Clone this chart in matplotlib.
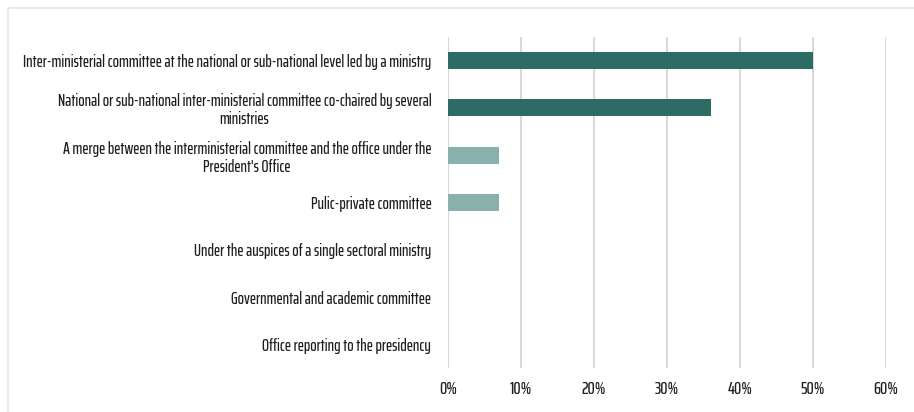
import matplotlib.pyplot as plt
from matplotlib.patches import Rectangle
from matplotlib.ticker import PercentFormatter

plt.rcParams['font.family'] = ['Saira ExtraCondensed', 'DejaVu Sans']
plt.rcParams['font.weight'] = 'medium'

categories = [
    "Inter-ministerial committee at the national or sub-national level led by a ministry",
    "National or sub-national inter-ministerial committee co-chaired by several\nministries",
    "A merge between the interministerial committee and the office under the\nPresident's Office",
    "Pulic-private committee",
    "Under the auspices of a single sectoral ministry",
    "Governmental and academic committee",
    "Office reporting to the presidency",
]
shares = [0.50, 0.36, 0.07, 0.07, 0.0, 0.0, 0.0]
colors = ["#2D6B65", "#2D6B65", "#88B0AC", "#88B0AC", "#88B0AC", "#88B0AC", "#88B0AC"]

fig = plt.figure(figsize=(9.14, 4.12), dpi=100)
# outer frame: only its top and left edges fall inside the image
fig.patches.append(Rectangle((8 / 914, -0.2), 1.2, 1.2 - 8 / 412,
                             transform=fig.transFigure, fill=False,
                             edgecolor="#E6E6E6", linewidth=1.2))
ax = fig.add_axes([448 / 914, 44 / 412, 438 / 914, 331 / 412])

y = range(len(categories))
ax.barh(y, shares, height=0.36, color=colors, zorder=3)

ax.set_ylim(len(categories) - 0.5, -0.5)
ax.set_xlim(0, 0.6)
ax.set_xticks([0, 0.1, 0.2, 0.3, 0.4, 0.5, 0.6])
ax.xaxis.set_major_formatter(PercentFormatter(1.0, decimals=0))
ax.set_yticks(list(y))
ax.set_yticklabels(categories, multialignment="center", linespacing=1.15)

ax.grid(axis="x", color="#D9D9D9", linewidth=1.5, zorder=0)
for s in ax.spines.values():
    s.set_visible(False)
ax.tick_params(axis="both", length=0, colors="#1F1F1F")
ax.tick_params(axis="x", pad=9, labelsize=13)
ax.tick_params(axis="y", pad=12, labelsize=12)

fig.savefig("out.png", dpi=100)
